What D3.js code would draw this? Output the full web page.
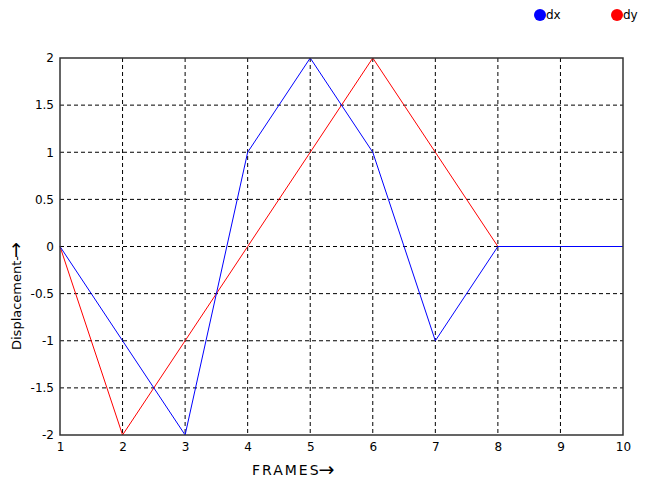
<!DOCTYPE html>
<html>
<head>
<meta charset="utf-8">
<script src="https://cdn.jsdelivr.net/npm/d3@7"></script>
<style>
  body { margin: 0; background: #fff; }
  svg text { font-family: "DejaVu Sans", Verdana, sans-serif; }
</style>
</head>
<body>
<svg id="chart" width="646" height="482"></svg>
<script>
let frames = [1, 2, 3, 4, 5, 6, 7, 8, 9, 10]
let dx = [0, -1, -2, 1, 2, 1, -1, 0, 0, 0]
let dy = [0, -2, -1, 0, 1, 2, 1, 0]
let yTicks = [-2, -1.5, -1, -0.5, 0, 0.5, 1, 1.5, 2]

let svg = d3.select('#chart')
let margin = {left: 60, right: 23, top: 58, bottom: 47}
let width = 646 - margin.left - margin.right
let height = 482 - margin.top - margin.bottom

let x = d3.scaleLinear().domain([1, 10]).range([margin.left, margin.left + width])
let y = d3.scaleLinear().domain([-2, 2]).range([margin.top + height, margin.top])

// grid
svg.append('g')
   .selectAll('line')
   .data(frames.slice(1, -1))
   .enter()
   .append('line')
   .attr('x1', d => x(d)).attr('x2', d => x(d))
   .attr('y1', y(2)).attr('y2', y(-2))
   .attr('stroke', '#000')
   .attr('stroke-dasharray', '4,3')

svg.append('g')
   .selectAll('line')
   .data(yTicks.slice(1, -1))
   .enter()
   .append('line')
   .attr('y1', d => y(d)).attr('y2', d => y(d))
   .attr('x1', x(1)).attr('x2', x(10))
   .attr('stroke', '#000')
   .attr('stroke-dasharray', '4,3')

// axes
let xAxis = svg.append('g')
   .attr('transform', 'translate(0,' + y(-2) + ')')
   .call(d3.axisBottom(x).tickValues(frames).tickSize(0).tickPadding(7).tickFormat(d3.format('d')))
xAxis.select('.domain').remove()
xAxis.selectAll('text').attr('font-size', 12).attr('fill', '#000')

let yAxis = svg.append('g')
   .attr('transform', 'translate(' + x(1) + ',0)')
   .call(d3.axisLeft(y).tickValues(yTicks).tickSize(0).tickPadding(6).tickFormat(d => d))
yAxis.select('.domain').remove()
yAxis.selectAll('text').attr('font-size', 12).attr('fill', '#000')

// line series
let line = d3.line()
   .x((d, i) => x(frames[i]))
   .y(d => y(d))

svg.append('path')
   .datum(dy)
   .attr('d', line)
   .attr('fill', 'none')
   .attr('stroke', '#ff0000')
   .attr('stroke-width', 1)

svg.append('path')
   .datum(dx)
   .attr('d', line)
   .attr('fill', 'none')
   .attr('stroke', '#0000ff')
   .attr('stroke-width', 1)

// frame
svg.append('rect')
   .attr('x', x(1)).attr('y', y(2))
   .attr('width', x(10) - x(1)).attr('height', y(-2) - y(2))
   .attr('fill', 'none')
   .attr('stroke', '#333')
   .attr('stroke-width', 1.5)

// axis titles
let xt = svg.append('text')
   .attr('x', 252)
   .attr('y', 475)
   .attr('font-size', 14)
xt.append('tspan').attr('letter-spacing', 2).text('FRAMES')
xt.append('tspan').attr('font-size', 19).attr('dy', 1).attr('dx', -2).text('\u2192')

let yt = svg.append('text')
   .attr('transform', 'translate(21,' + 350 + ') rotate(-90)')
   .attr('font-size', 13)
yt.append('tspan').text('Displacement-')
yt.append('tspan').attr('font-size', 19).attr('dy', 1).attr('dx', -2).text('\u2192')

// legend
let legend = [{name: 'dx', color: '#0000ff', cx: 540}, {name: 'dy', color: '#ff0000', cx: 617}]
let lg = svg.selectAll('.legend')
   .data(legend)
   .enter()
   .append('g')
   .attr('class', 'legend')
lg.append('circle')
  .attr('cx', d => d.cx).attr('cy', 15).attr('r', 6)
  .attr('fill', d => d.color)
lg.append('text')
  .attr('x', d => d.cx + 6).attr('y', 19)
  .attr('font-size', 12)
  .text(d => d.name)
</script>
</body>
</html>
